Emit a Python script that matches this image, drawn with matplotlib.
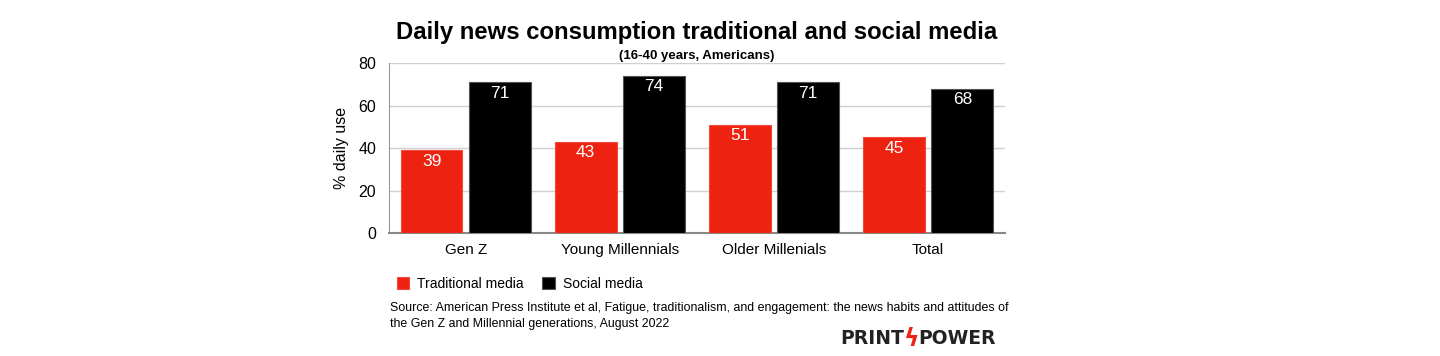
import matplotlib.pyplot as plt
import numpy as np

plt.rcParams['font.family'] = ['Liberation Sans', 'DejaVu Sans']

# datos
grupos = ['Gen Z', 'Young Millennials', 'Older Millenials', 'Total']
tradicional = [39, 43, 51, 45]
social = [71, 74, 71, 68]
yticks = [0, 20, 40, 60, 80]

rojo = '#ee2211'
negro = '#000000'

fig = plt.figure(figsize=(14.4, 3.56), dpi=100)
ax = fig.add_axes([0.270, 0.3455, 0.428, 0.4775])

x = np.arange(len(grupos))
ancho = 0.40
b1 = ax.bar(x - 0.222, tradicional, ancho, color=rojo, edgecolor='#f04a3a', linewidth=0.8,
            label='Traditional media', zorder=3)
b2 = ax.bar(x + 0.222, social, ancho, color=negro, edgecolor='#555555', linewidth=0.8,
            label='Social media', zorder=3)

# etiquetas de valores
for barras in (b1, b2):
    for b in barras:
        ax.annotate(str(int(b.get_height())), (b.get_x() + b.get_width() / 2, b.get_height()),
                    xytext=(0, -2.5), textcoords='offset points', ha='center', va='top',
                    color='white', fontsize=12.5, zorder=4)

ax.set_xlim(-0.5, len(grupos) - 0.5)
ax.set_ylim(0, 80)
ax.set_yticks(yticks)
ax.set_xticks(x)
ax.set_xticklabels(grupos, fontsize=11)
ax.tick_params(axis='y', labelsize=11.5, length=0, pad=9)
ax.tick_params(axis='x', length=0, pad=7)
ax.grid(axis='y', color='#d0d0d0', linewidth=1, zorder=0)
for s in ['top', 'right']:
    ax.spines[s].set_visible(False)
ax.spines['left'].set_color('#999999')
ax.spines['bottom'].set_color('#888888')
ax.spines['bottom'].set_linewidth(1.5)
ax.set_ylabel('% daily use', fontsize=11.5, labelpad=7)

# titulos
fig.text(0.484, 0.908, 'Daily news consumption traditional and social media',
         ha='center', va='center', fontsize=17.2, fontweight='bold')
fig.text(0.484, 0.843, '(16-40 years, Americans)', ha='center', va='center',
         fontsize=9.5, fontweight='bold')

# leyenda
ax.legend(loc='upper left', bbox_to_anchor=(-0.007, -0.185), ncol=2, frameon=False,
          fontsize=10, handlelength=0.9, handleheight=0.9, columnspacing=1.35,
          handletextpad=0.55)

# fuente
fig.text(0.271, 0.113, 'Source: American Press Institute et al, Fatigue, traditionalism, and '
         'engagement: the news habits and attitudes of\nthe Gen Z and Millennial generations, '
         'August 2022', ha='left', va='center', fontsize=8.95, linespacing=1.42)

# logo
fig.text(0.628, 0.048, 'PRINT', ha='right', va='center', fontsize=13.5, fontweight='bold',
         color='#222222', family='DejaVu Sans')
fig.text(0.6326, 0.048, 'ϟ', ha='center', va='center', fontsize=17, fontweight='bold',
         color=rojo, family='DejaVu Sans')
fig.text(0.6375, 0.048, 'POWER', ha='left', va='center', fontsize=13.5, fontweight='bold',
         color='#222222', family='DejaVu Sans')

fig.savefig('out.png', dpi=100)
